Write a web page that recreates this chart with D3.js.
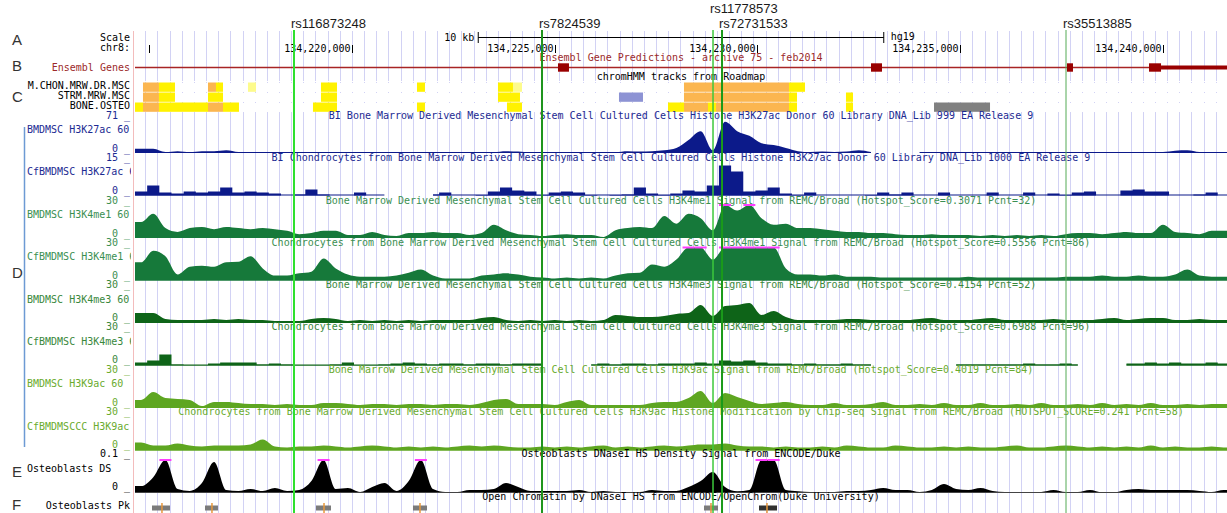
<!DOCTYPE html>
<html>
<head>
<meta charset="utf-8">
<script src="https://cdn.jsdelivr.net/npm/d3@7"></script>
<style>
  body { margin: 0; background: #fff; }
  svg { display: block; }
</style>
</head>
<body>
<svg id="browser" width="1227" height="513"></svg>
<script>
// Global Variables :
var width = 1227,
    height = 513;

var dataLeft = 135,
    dataRight = 1227;

// chr8 window shown (hg19)
var viewStart = 134214649,
    viewEnd = 134241578;

var scaleBarBp = 10000;

// signal bins (300 bp each, starting at viewStart)
var binStart = 134214649,
    binSize = 300;

// ---- data ----
var snpIds = ["rs116873248", "rs7824539", "rs11778573", "rs72731533", "rs35513885"];
var snpPos = [134218570, 134224686, 134228903, 134229125, 134237608];

var exonStarts = [134225080, 134232799, 134237632, 134239655];
var exonEnds   = [134225351, 134233070, 134237780, 134239951];
var utrStart = 134239951, utrEnd = 134241578;

var hmmRowNames = ["M.CHON.MRW.DR.MSC", "STRM.MRW.MSC", "BONE.OSTEO"];
var hmmChon = [[134214846,134215240,"TssAFlnk"],[134215240,134215635,"Enh"],[134216449,134216646,"TssAFlnk"],
  [134216646,134216819,"Enh"],[134217435,134217633,"EnhG"],[134219235,134219630,"Enh"],[134221603,134221800,"Enh"],
  [134223600,134223970,"Enh"],[134223970,134224192,"EnhG"],[134228187,134230777,"TssAFlnk"],[134230777,134231171,"Enh"]];
var hmmStrm = [[134214846,134215240,"TssAFlnk"],[134215240,134215635,"Enh"],[134216449,134216819,"Enh"],
  [134219235,134219630,"Enh"],[134223600,134224143,"Enh"],[134226584,134227176,"Het"],[134228187,134230777,"TssAFlnk"],
  [134230777,134230974,"Enh"],[134232182,134232355,"Enh"]];
var hmmOsteo = [[134214649,134214846,"Enh"],[134214846,134215240,"TssAFlnk"],[134215240,134216449,"Enh"],
  [134216449,134216819,"TssAFlnk"],[134216819,134217213,"Enh"],[134219038,134219630,"Enh"],[134221603,134221800,"Enh"],
  [134223822,134224192,"Enh"],[134227793,134228187,"Enh"],[134228187,134228779,"TssAFlnk"],[134228779,134228977,"Enh"],
  [134228977,134230777,"TssAFlnk"],[134230777,134230974,"Enh"],[134232182,134232355,"Enh"],[134234353,134235734,"ReprPC"]];

var trackNames = ["BMDMSC H3K27ac 60", "CfBMDMSC H3K27ac 60", "BMDMSC H3K4me1 60", "CfBMDMSC H3K4me1 60",
  "BMDMSC H3K4me3 60", "CfBMDMSC H3K4me3 60", "BMDMSC H3K9ac 60", "CfBMDMSCCC H3K9ac", "Osteoblasts DS"];
var trackTitles = [
  "BI Bone Marrow Derived Mesenchymal Stem Cell Cultured Cells Histone H3K27ac Donor 60 Library DNA_Lib 999 EA Release 9",
  "BI Chondrocytes from Bone Marrow Derived Mesenchymal Stem Cell Cultured Cells Histone H3K27ac Donor 60 Library DNA_Lib 1000 EA Release 9",
  "Bone Marrow Derived Mesenchymal Stem Cell Cultured Cells H3K4me1 Signal from REMC/Broad (Hotspot_Score=0.3071 Pcnt=32)",
  "Chondrocytes from Bone Marrow Derived Mesenchymal Stem Cell Cultured Cells H3K4me1 Signal from REMC/Broad (Hotspot_Score=0.5556 Pcnt=86)",
  "Bone Marrow Derived Mesenchymal Stem Cell Cultured Cells H3K4me3 Signal from REMC/Broad (Hotspot_Score=0.4154 Pcnt=52)",
  "Chondrocytes from Bone Marrow Derived Mesenchymal Stem Cell Cultured Cells H3K4me3 Signal from REMC/Broad (Hotspot_Score=0.6988 Pcnt=96)",
  "Bone Marrow Derived Mesenchymal Stem Cell Cultured Cells H3K9ac Signal from REMC/Broad (Hotspot_Score=0.4019 Pcnt=84)",
  "Chondrocytes from Bone Marrow Derived Mesenchymal Stem Cell Cultured Cells H3K9ac Histone Modification by Chip-seq Signal from REMC/Broad (HOTSPOT_SCORE=0.241 Pcnt=58)",
  "Osteoblasts DNaseI HS Density Signal from ENCODE/Duke"];
var trackMax = [71, 15, 30, 30, 30, 30, 30, 30, 0.1];
var trackMaxLabels = ["71", "15", "30", "30", "30", "30", "30", "30", "0.1"];

var h3k27acBM = [9,9,2,4,2,4,4,6,2,1, 2,1,1,1,2,1,1,1,1,1, 1,1,1,1,1,1,1,1,1,2,
  4,3,1,1,1,1,1,1,1,2, 4,3,4,6,11,28,47,6,67,47, 37,21,17,11,4,2,3,2,3,6,
  2,null,null,null,1,1,1,1,1,1, 1,1,1,1,1,1,1,1,1,1, 2,1,1,1,2,5,6,2,1,1];
var h3k27acCf = [1.8,4.5,1.4,0.9,1.8,1.4,1.8,3.6,1.4,1.8, 1.4,0.9,0,0.5,2.7,0.5,0,0,1.4,0,
  0,null,null,null,0.5,1.4,0,0,0.2,1.8, 3.6,2.3,1.8,0.2,1.4,1.8,1.4,0.2,0,0.2,
  0.5,3.6,0.9,0.2,0.9,2.3,1.8,4.5,13.6,10.9, 1.8,2.3,3.6,0.9,0.2,1.4,0,0,0,0,
  0.2,1.4,0.5,1.4,0,0,1.4,0,0,0, 1.4,0,0,1.4,0,0.9,0.2,1.4,1.8,0, 0,2.3,2.7,1.8,1.8,0,0,0.5,1.4,0];
var h3k4me1BM = [14.5,22,9,5.5,9,10,8,10,9,8, 9,8,6.5,3.5,4.5,6.5,6.5,2.7,2.7,5.5,
  2.7,1.8,4.5,4.5,5.5,4.5,4.5,2.7,4.5,12, 7,3.5,2.7,1.8,2.7,3.5,2.7,2.7,0.9,7,
  9,10,9,20,13,22,18,7,31,25, 31,18,12,13,9,9,8,6.5,5.5,5.5,
  4.5,4.5,3.5,2.7,2.7,3.5,2.7,2.7,2.7,1.8, 2.7,1.8,2.7,1.8,2.7,1.8,3.5,4.5,4.5,3.5,
  4.5,5.5,4.5,4.5,12,5.5,4.5,3.5,6.5,6.5];
var h3k4me1Cf = [16.5,27,22,5.5,12.5,13.5,12.5,16.5,17,22, 11,4.5,4.5,6.5,8,20,11,5.5,3.5,3.5,
  3.5,4.5,7,10,4.5,1.8,1.8,1.8,4.5,5.5, 6.5,5.5,3.5,2.7,1.8,2.7,1.8,2.7,1.8,4.5,
  6.5,7,14.5,12.5,19,32,32,19,32,32, 32,32,32,11,5.5,5.5,4.5,5.5,3.5,3.5,
  3.5,2.7,2.7,2.7,2.7,2.7,2.7,2.7,3.5,2.7, 2.7,2.7,2.7,2.7,2.7,2.7,3.5,3.5,3.5,4.5,
  3.5,3.5,4.5,3.5,3.5,5.5,10,4.5,3.5,3.5];
var h3k4me3BM = [9,9,3.6,2.7,2.7,2.7,3.6,2.7,3.6,2.7, 2.7,1.8,1.8,1.8,3.6,4.5,3.6,1.8,2.7,1.8,
  2.7,1.8,2.7,1.8,2.7,2.7,2.7,2.7,4.5,5.5, 2.7,1.8,2.7,1.8,2.7,1.8,2.7,1.8,2.7,7.3,
  6.4,5.5,5.5,6.4,8.2,9,16.4,6.4,15.5,16.4, 18.2,7.3,10.9,5.5,2.7,2.7,2.7,2.7,3.6,3.6,
  2.7,2.7,2.7,2.7,3.6,4.5,2.7,2.7,2.7,3.6, 4.5,2.7,2.7,2.7,2.7,3.6,2.7,2.7,2.7,3.6,
  4.5,2.7,3.6,4.5,4.5,2.7,2.7,3.6,2.7,2.7];
var h3k4me3Cf = [2.7,4.5,10,0.9,0.5,0.5,1.8,2.7,2.7,2.7, 0.9,1.8,0.9,0.5,0.5,0.5,0.9,2.7,0.5,0.5,
  0.9,1.8,2.7,1.8,0.9,1.8,1.8,0.9,1.8,1.8, 0.9,1.8,1.8,1.8,null,null,null,0.9,1.8,0.9,
  1.8,1.8,0.9,1.8,1.8,1.8,2.7,1.8,4.5,3.6, 4.5,2.7,1.8,1.8,0.9,1.8,0.9,0.9,1.8,0.9,
  0.9,null,null,null,null,null,null,0.9,0.9,0.9, 0.9,0.9,0.9,1.8,0.9,0.9,1.8,0.9,null,null,
  null,1.8,1.8,2.7,1.8,2.7,1.8,1.8,2.7,1.8];
var h3k9acBM = [7.3,14.5,9,8.2,7.3,1.8,5.5,5.5,4.5,3.6, 3.6,2.7,3.6,2.7,2.7,4.5,4.5,3.6,2.7,3.6,
  3.6,2.7,3.6,3.6,2.7,3.6,3.6,2.7,4.5,7.3, 8.2,3.6,3.6,3.6,2.7,5.5,7.3,2.7,2.7,2.7,
  2.7,2.7,4.5,5.5,5.5,9,15.5,4.5,13.6,10, 6.4,3.6,4.5,5.5,3.6,2.7,2.7,4.5,2.7,2.7,
  3.6,5.5,2.7,2.7,3.6,2.7,4.5,2.7,2.7,4.5, 2.7,2.7,3.6,2.7,4.5,2.7,2.7,3.6,2.7,4.5,
  2.7,3.6,2.7,4.5,2.7,2.7,3.6,2.7,3.6,3.6];
var h3k9acCf = [7.3,4.5,4.5,6.4,4.5,3.6,4.5,4.5,4.5,5.5, 10,3.6,2.7,3.6,3.6,4.5,3.6,2.7,3.6,4.5,
  3.6,2.7,3.6,2.7,3.6,2.7,3.6,4.5,3.6,4.5, 3.6,2.7,2.7,3.6,2.7,3.6,2.7,3.6,4.5,2.7,
  3.6,2.7,3.6,4.5,3.6,4.5,5.5,5.5,6.4,4.5, 3.6,3.6,2.7,3.6,2.7,2.7,3.6,2.7,4.5,3.6,
  2.7,2.7,4.5,3.6,2.7,2.7,3.6,2.7,3.6,2.7, 2.7,3.6,4.5,2.7,2.7,3.6,4.5,3.6,2.7,3.6,
  2.7,3.6,2.7,4.5,2.7,3.6,2.7,2.7,3.6,2.7];
var dnaseOsteo = [0.021,0.048,0.103,0.012,0.006,0.030,0.094,0.009,0.006,0.012,
  0.006,0.015,0.006,0.009,0.036,0.103,0.012,0.015,0.003,0.018, 0.030,0.006,0.036,0.103,0.012,0.003,0.003,0.009,0.009,0.012,
  0.030,0.018,0.006,0.006,0.006,0.006,0.009,0.003,0.006,0.003, 0.003,0.003,0.009,0.006,0.006,0.018,0.036,0.064,0.018,0.005,
  0.009,0.103,0.103,0.009,0.005,0.003,0.003,0.003,0.006,0.006, 0.009,0.015,0.009,0.009,0.003,0.009,0.027,0.012,0.009,0.015,
  0.006,0.003,0.002,0.002,0.003,0.009,0.003,0.003,0.009,0.002, 0.002,0.009,0.012,0.009,0.009,0.009,0.009,0.006,0.003,0.009];
var trackValues = [h3k27acBM, h3k27acCf, h3k4me1BM, h3k4me1Cf, h3k4me3BM, h3k4me3Cf, h3k9acBM, h3k9acCf, dnaseOsteo];

var peakStarts  = [134215068, 134216375, 134219112, 134221504, 134228681, 134230037];
var peakEnds    = [134215512, 134216695, 134219482, 134221850, 134229026, 134230481];
var peakSummits = [134215314, 134216547, 134219310, 134221677, 134228853, 134230234];
var peakScores  = [420, 420, 420, 420, 420, 900];

// ---- styles ----
var mono = "'DejaVu Sans Mono', monospace",
    sans = "'Liberation Sans', Arial, sans-serif";
var fillColors = ["#0c1a8a","#0c1a8a","#16793a","#16793a","#0e6418","#0e6418","#5ea621","#5ea621","#000000"];
var textColors = ["#1c2a92","#1c2a92","#3b8f52","#3b8f52","#3a883c","#3a883c","#6aab2e","#6aab2e","#000000"];
var stepTracks = [1, 5];
var hmmColors = {TssAFlnk: "#fbb650", Enh: "#fff200", EnhG: "#fdfb8c", Het: "#8d93d4", ReprPC: "#808080"};
var snpColors = ["#2fe02f", "#1e951e", "#3cc83c", "#1a9a1a", "#55aa55"];
var snpWidths = [2, 2, 1.5, 2, 1];
var gridColor = "#d2d2f4";

var svg = d3.select("#browser");
svg.append("rect").attr("width", width).attr("height", height).attr("fill", "#fff");

var x = d3.scaleLinear().domain([viewStart, viewEnd]).range([dataLeft, dataRight]);

svg.append("clipPath").attr("id", "labelClip")
  .append("rect").attr("x", 0).attr("y", 0).attr("width", 131).attr("height", height);

function txt(g, s, px, py, anchor, color, font, size) {
  return g.append("text").attr("x", px).attr("y", py).attr("text-anchor", anchor || "start")
    .attr("fill", color || "#000").attr("font-family", font || mono).attr("font-size", size || 10)
    .attr("xml:space", "preserve").text(s);
}

// guidelines every 300 bp
var gridPos = d3.range(Math.ceil(viewStart / 300) * 300, viewEnd, 300);
var gGrid = svg.append("g");
gGrid.selectAll(".g1").data(gridPos).enter().append("line")
  .attr("x1", d => Math.round(x(d)) + 0.5).attr("x2", d => Math.round(x(d)) + 0.5)
  .attr("y1", 31).attr("y2", 81).attr("stroke", gridColor);
gGrid.selectAll(".g2").data(gridPos).enter().append("line")
  .attr("x1", d => Math.round(x(d)) + 0.5).attr("x2", d => Math.round(x(d)) + 0.5)
  .attr("y1", 113).attr("y2", height).attr("stroke", gridColor);
gGrid.selectAll(".g3").data(gridPos).enter().append("line")
  .attr("x1", d => Math.round(x(d)) + 0.5).attr("x2", d => Math.round(x(d)) + 0.5)
  .attr("y1", 82).attr("y2", 113).attr("stroke", gridColor).attr("stroke-dasharray", "1,9");

// pink separator
svg.append("line").attr("x1", 133.5).attr("x2", 133.5).attr("y1", 31).attr("y2", height)
  .attr("stroke", "#f3bcbc");

// panel letters
var gLetters = svg.append("g");
[["A", 45], ["B", 71], ["C", 102], ["D", 278], ["E", 477], ["F", 510]].forEach(function(l) {
  txt(gLetters, l[0], 12, l[1], "start", "#333", sans, 15);
});
svg.append("line").attr("x1", 24.5).attr("x2", 24.5).attr("y1", 127).attr("y2", 447)
  .attr("stroke", "#6d9ad4").attr("stroke-width", 1.5);

// Scale / ruler
var gScale = svg.append("g");
txt(gScale, "Scale", 130, 41, "end");
txt(gScale, "chr8:", 130, 51, "end");
var mid = (viewStart + viewEnd) / 2;
var sb0 = x(mid - scaleBarBp / 2), sb1 = x(mid + scaleBarBp / 2);
gScale.append("line").attr("x1", sb0).attr("x2", sb1).attr("y1", 37.5).attr("y2", 37.5).attr("stroke", "#000");
[sb0, sb1].forEach(function(s) {
  gScale.append("line").attr("x1", s).attr("x2", s).attr("y1", 32).attr("y2", 43).attr("stroke", "#000");
});
txt(gScale, (scaleBarBp / 1000) + " kb", sb0 - 4, 41, "end");
txt(gScale, "hg19", sb1 + 7, 40, "start");

var tickPos = d3.range(Math.ceil(viewStart / 5000) * 5000, viewEnd, 5000);
tickPos.forEach(function(p) {
  var tx = Math.round(x(p)) + 0.5;
  gScale.append("line").attr("x1", tx).attr("x2", tx).attr("y1", 45).attr("y2", 53).attr("stroke", "#000");
  var lab = d3.format(",")(p);
  if (tx - 2 - lab.length * 6.02 > 134) txt(gScale, lab, tx - 2, 52, "end");
});

// Ensembl genes
var gGene = svg.append("g");
var geneRed = "#9c2a2a";
txt(gGene, "Ensembl Genes", 130, 71, "end", geneRed);
txt(gGene, "Ensembl Gene Predictions - archive 75 - feb2014", (dataLeft + dataRight) / 2, 61, "middle", geneRed);
gGene.append("line").attr("x1", dataLeft).attr("x2", dataRight).attr("y1", 67.5).attr("y2", 67.5)
  .attr("stroke", "#a82424").attr("stroke-width", 1.5);
gGene.selectAll(".exon").data(exonStarts).enter().append("rect")
  .attr("x", d => x(d)).attr("width", (d, i) => x(exonEnds[i]) - x(d))
  .attr("y", 63.3).attr("height", 8.4).attr("fill", "#990000");
gGene.append("rect").attr("x", x(utrStart)).attr("width", x(utrEnd) - x(utrStart))
  .attr("y", 65.5).attr("height", 4).attr("fill", "#990000");

// chromHMM
var gHmm = svg.append("g");
txt(gHmm, "chromHMM tracks from Roadmap", (dataLeft + dataRight) / 2, 80, "middle");
[hmmChon, hmmStrm, hmmOsteo].forEach(function(row, r) {
  txt(gHmm, hmmRowNames[r], 130, 89 + 10 * r, "end");
  gHmm.selectAll(".hmm" + r).data(row).enter().append("rect")
    .attr("x", d => x(d[0])).attr("width", d => x(d[1]) - x(d[0]))
    .attr("y", 82.5 + 10 * r).attr("height", 9.3).attr("fill", d => hmmColors[d[2]]);
});

// signal tracks
var gTracks = svg.append("g");
trackValues.forEach(function(vals, k) {
  var max = trackMax[k];
  var baseY = 153 + 42.5 * k,
      topY = baseY - 33,
      labTop = 119 + 42.25 * k,
      labZero = 152 + 42.25 * k,
      labName = 133 + 42.4 * k;
  var color = fillColors[k], tcol = textColors[k];
  var g = gTracks.append("g");

  txt(g, trackMaxLabels[k] + " _", 130, labTop, "end", tcol);
  txt(g, "0 _", 130, labZero, "end", tcol);
  txt(g, trackNames[k], 27, labName, "start", tcol).attr("clip-path", "url(#labelClip)");
  txt(g, trackTitles[k], (dataLeft + dataRight) / 2, labTop, "middle", tcol);

  var pts = vals.map(function(v, i) { return {p: binStart + (i + 0.5) * binSize, v: v}; });
  var all = [{p: viewStart, v: vals[0]}].concat(pts, [{p: viewEnd, v: vals[vals.length - 1]}]);
  var y = d3.scaleLinear().domain([0, max]).range([baseY, topY]).clamp(true);
  var curve = stepTracks.indexOf(k) != -1 ? d3.curveStep : d3.curveMonotoneX;

  var area = d3.area().defined(d => d.v != null)
    .x(d => x(d.p)).y0(baseY).y1(d => y(d.v)).curve(curve);
  g.append("path").datum(all).attr("d", area).attr("fill", color);

  var base = d3.line().defined(d => d.v != null).x(d => x(d.p)).y(baseY - 0.5);
  g.append("path").datum(all).attr("d", base).attr("fill", "none")
    .attr("stroke", k == 8 ? "#444" : color).attr("stroke-width", 1.2);

  // values above the view limit are marked in magenta
  g.selectAll(".clip").data(pts.filter(d => d.v != null && d.v > max)).enter().append("rect")
    .attr("x", d => x(d.p) - 6).attr("width", 12)
    .attr("y", topY - 1).attr("height", 2).attr("fill", "#ff3cff");
});

// Osteoblasts peaks (F)
var gPk = svg.append("g");
txt(gPk, "Osteoblasts Pk", 130, 509, "end");
txt(gPk, "Open Chromatin by DNaseI HS from ENCODE/OpenChrom(Duke University)", (dataLeft + dataRight) / 2, 500, "middle");
var pkShade = d3.scaleLinear().domain([0, 1000]).range(["#bbbbbb", "#222222"]);
gPk.selectAll(".pk").data(peakStarts).enter().append("rect")
  .attr("x", d => x(d)).attr("width", (d, i) => x(peakEnds[i]) - x(d))
  .attr("y", 505.5).attr("height", 5).attr("fill", (d, i) => pkShade(peakScores[i]));
gPk.selectAll(".sm").data(peakSummits).enter().append("line")
  .attr("x1", d => x(d)).attr("x2", d => x(d)).attr("y1", 503).attr("y2", 513)
  .attr("stroke", "#e8973a").attr("stroke-width", 1.5);

// SNP lines and labels
var gSnp = svg.append("g");
snpPos.forEach(function(p, i) {
  gSnp.append("line").attr("x1", x(p)).attr("x2", x(p)).attr("y1", 30).attr("y2", height)
    .attr("stroke", snpColors[i]).attr("stroke-width", snpWidths[i]);
});
// stagger labels that would collide, working right to left
var rowOf = [], lastStart = [Infinity, Infinity];
for (var i = snpPos.length - 1; i >= 0; i--) {
  var sx = x(snpPos[i]) - 3, w = snpIds[i].length * 7.3;
  var row = sx + w + 2 > lastStart[0] ? 1 : 0;
  rowOf[i] = row;
  lastStart[row] = sx;
}
snpIds.forEach(function(id, i) {
  txt(gSnp, id, x(snpPos[i]) - 3, 28 - 15 * rowOf[i], "start", "#1a1a1a", sans, 13);
});
</script>
</body>
</html>
